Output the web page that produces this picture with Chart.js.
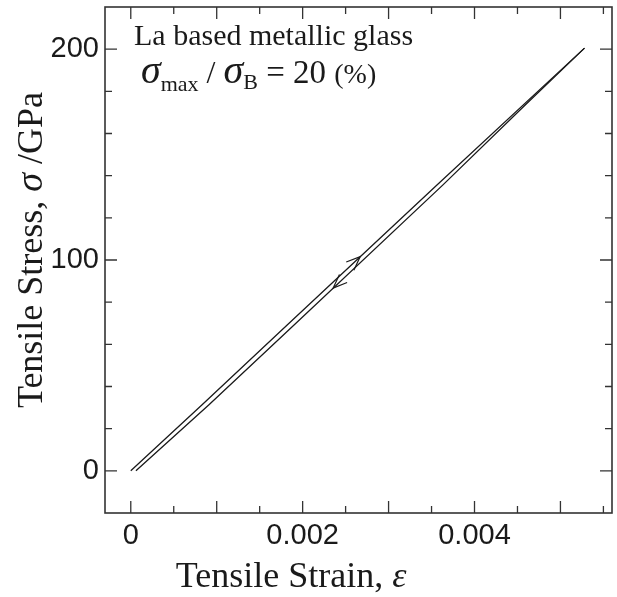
<!DOCTYPE html>
<html>
<head>
<meta charset="utf-8">
<script src="https://cdn.jsdelivr.net/npm/chart.js@4.4.1/dist/chart.umd.min.js"></script>
<style>
  html, body { margin: 0; padding: 0; background: #fff; }
  canvas { display: block; }
</style>
</head>
<body>
<canvas id="chart__canvas" width="617" height="597"></canvas>
<script>
// loading branch (upper / left line)
const loadStrain = [0, 0.00083, 0.00182, 0.00356, 0.00528];
const loadStress = [0, 31.3, 69.2, 135.5, 200.5];
// unloading branch (lower / right line)
const unloadStrain = [0.00528, 0.00459, 0.00363, 0.00190, 0.00091, 0.00006];
const unloadStress = [200.5, 173.5, 135.5, 69.2, 31.3, 0];

// arrow heads on the two branches
const arrowStrain = [0.00267, 0.002355];
const arrowStress = [101.6, 86.7];

// axis ticks
const xTickValues = [0, 0.002, 0.004];
const xTickLabels = ["0", "0.002", "0.004"];
const yTickValues = [0, 100, 200];
const yTickLabels = ["0", "100", "200"];
const xMajor = [0, 0.001, 0.002, 0.003, 0.004, 0.005];
const xMinor = [0.0005, 0.0015, 0.0025, 0.0035, 0.0045, 0.0055];
const yMajor = [0, 100, 200];
const yMinor = [20, 40, 60, 80, 120, 140, 160, 180];

const INK = "#1a1a1a";
const SERIF = "'Liberation Serif', 'Times New Roman', serif";
const SANS = "'Liberation Sans', Arial, Helvetica, sans-serif";

function toPoints(xs, ys) {
    return xs.map((x, i) => ({ x: x, y: ys[i] }));
}

// draw a run of text pieces with different fonts, returns end x
function drawRun(ctx, pieces, x, y) {
    pieces.forEach((p) => {
        ctx.font = p.font;
        ctx.fillText(p.text, x, y + (p.dy || 0));
        x += ctx.measureText(p.text).width;
    });
    return x;
}
function runWidth(ctx, pieces) {
    let w = 0;
    pieces.forEach((p) => { ctx.font = p.font; w += ctx.measureText(p.text).width; });
    return w;
}

// FRAME, INWARD TICKS, ARROWS, TITLES
const decorPlugin = {
    id: "decor",
    afterDraw(chart) {
        const ctx = chart.ctx;
        const a = chart.chartArea;
        const xs = chart.scales.x;
        const ys = chart.scales.y;
        ctx.save();

        // ticks
        ctx.strokeStyle = "#333";
        ctx.lineWidth = 1.3;
        const xTick = (v, len) => {
            const px = xs.getPixelForValue(v);
            ctx.beginPath();
            ctx.moveTo(px, a.bottom); ctx.lineTo(px, a.bottom - len);
            ctx.moveTo(px, a.top); ctx.lineTo(px, a.top + len);
            ctx.stroke();
        };
        const yTick = (v, len) => {
            const py = ys.getPixelForValue(v);
            ctx.beginPath();
            ctx.moveTo(a.left, py); ctx.lineTo(a.left + len, py);
            ctx.moveTo(a.right, py); ctx.lineTo(a.right - len, py);
            ctx.stroke();
        };
        xMajor.forEach((v) => xTick(v, 12));
        xMinor.forEach((v) => xTick(v, 7));
        yMajor.forEach((v) => yTick(v, 12));
        yMinor.forEach((v) => yTick(v, 7));

        // frame
        ctx.lineWidth = 1.6;
        ctx.strokeRect(a.left, a.top, a.right - a.left, a.bottom - a.top);

        // arrow heads
        ctx.strokeStyle = INK;
        ctx.lineWidth = 1.2;
        const dirs = [
            [loadStrain[0], loadStress[0], loadStrain[loadStrain.length - 1], loadStress[loadStress.length - 1]],
            [unloadStrain[0], unloadStress[0], unloadStrain[unloadStrain.length - 1], unloadStress[unloadStress.length - 1]]
        ];
        arrowStrain.forEach((sx, i) => {
            const tx = xs.getPixelForValue(sx);
            const ty = ys.getPixelForValue(arrowStress[i]);
            const d = dirs[i];
            const dx = xs.getPixelForValue(d[2]) - xs.getPixelForValue(d[0]);
            const dy = ys.getPixelForValue(d[3]) - ys.getPixelForValue(d[1]);
            const ang = Math.atan2(dy, dx) + Math.PI;
            const spread = 0.38;
            const len = 15;
            ctx.beginPath();
            ctx.moveTo(tx + len * Math.cos(ang - spread), ty + len * Math.sin(ang - spread));
            ctx.lineTo(tx, ty);
            ctx.lineTo(tx + len * Math.cos(ang + spread), ty + len * Math.sin(ang + spread));
            ctx.stroke();
        });

        // annotation
        ctx.fillStyle = INK;
        ctx.textAlign = "left";
        ctx.textBaseline = "alphabetic";
        ctx.font = "30px " + SERIF;
        ctx.fillText("La based metallic glass", 134, 45);
        drawRun(ctx, [
            { text: "σ", font: "italic 40px " + SERIF },
            { text: "max", font: "22px " + SERIF, dy: 8 },
            { text: " / ", font: "32px " + SERIF },
            { text: "σ", font: "italic 40px " + SERIF },
            { text: "B", font: "22px " + SERIF, dy: 6 },
            { text: " = 20 ", font: "33px " + SERIF },
            { text: "(%)", font: "28px " + SERIF }
        ], 141, 83);

        // x axis title
        const xTitle = [
            { text: "Tensile Strain, ", font: "36px " + SERIF },
            { text: "ε", font: "italic 36px " + SERIF }
        ];
        drawRun(ctx, xTitle, 291 - runWidth(ctx, xTitle) / 2, 587);

        // y axis title
        const yTitle = [
            { text: "Tensile Stress, ", font: "36px " + SERIF },
            { text: "σ", font: "italic 38px " + SERIF },
            { text: " /GPa", font: "36px " + SERIF }
        ];
        ctx.translate(42, 250 + runWidth(ctx, yTitle) / 2);
        ctx.rotate(-Math.PI / 2);
        drawRun(ctx, yTitle, 0, 0);

        ctx.restore();
    }
};

const lineStyle = {
    showLine: true,
    borderColor: INK,
    borderWidth: 1.3,
    pointRadius: 0,
    fill: false,
    tension: 0
};

const config = {
    type: "scatter",
    data: {
        datasets: [
            Object.assign({ label: "loading", data: toPoints(loadStrain, loadStress) }, lineStyle),
            Object.assign({ label: "unloading", data: toPoints(unloadStrain, unloadStress) }, lineStyle)
        ]
    },
    options: {
        responsive: false,
        animation: false,
        devicePixelRatio: 1,
        layout: { padding: { left: 0, right: 5, top: 7, bottom: 0 } },
        plugins: {
            legend: { display: false },
            tooltip: { enabled: false }
        },
        scales: {
            x: {
                type: "linear",
                min: -0.0003,
                max: 0.0056,
                grid: { display: false, drawTicks: false },
                border: { display: false },
                afterBuildTicks: (scale) => { scale.ticks = xTickValues.map((v) => ({ value: v })); },
                afterFit: (scale) => {
                    scale.height = 84;
                    scale.paddingLeft = 0;
                    scale.paddingRight = 0;
                },
                ticks: {
                    padding: 6,
                    maxRotation: 0,
                    color: INK,
                    font: { family: SANS, size: 29 },
                    callback: (v) => xTickLabels[xTickValues.indexOf(v)]
                }
            },
            y: {
                type: "linear",
                min: -20,
                max: 220,
                grid: { display: false, drawTicks: false },
                border: { display: false },
                afterBuildTicks: (scale) => { scale.ticks = yTickValues.map((v) => ({ value: v })); },
                afterFit: (scale) => {
                    scale.width = 105;
                    scale.paddingTop = 0;
                    scale.paddingBottom = 0;
                },
                ticks: {
                    padding: 6,
                    color: INK,
                    font: { family: SANS, size: 29 },
                    callback: (v) => yTickLabels[yTickValues.indexOf(v)]
                }
            }
        }
    },
    plugins: [decorPlugin]
};

const ctx = document.getElementById("chart__canvas").getContext("2d");
const myChart = new Chart(ctx, config);
</script>
</body>
</html>
